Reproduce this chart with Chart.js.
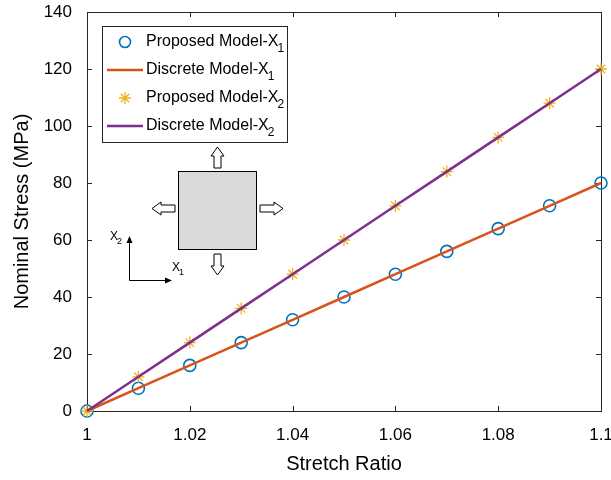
<!DOCTYPE html>
<html>
<head>
<meta charset="utf-8">
<script src="https://cdn.jsdelivr.net/npm/chart.js@4.4.1/dist/chart.umd.min.js"></script>
<style>
  html, body { margin: 0; padding: 0; background: #fff; }
  #wrap { width: 611px; height: 480px; }
</style>
</head>
<body>
<div id="wrap"><canvas id="stress-chart"></canvas></div>
<script>
// stretch ratio and stresses
const stretchRatio = [1, 1.01, 1.02, 1.03, 1.04, 1.05, 1.06, 1.07, 1.08, 1.09, 1.1];
const proposedX1 = [0, 8, 16, 24, 32, 40, 48, 56, 64, 72, 80];
const discreteX1 = [0, 8, 16, 24, 32, 40, 48, 56, 64, 72, 80];
const proposedX2 = [0, 12, 24, 36, 48, 60, 72, 84, 96, 108, 120];
const discreteX2 = [0, 12, 24, 36, 48, 60, 72, 84, 96, 108, 120];
const xTicks = [1, 1.02, 1.04, 1.06, 1.08, 1.1];
const yTicks = [0, 20, 40, 60, 80, 100, 120, 140];

const FONT = "'Liberation Sans', Arial, sans-serif";
const BLUE = "#0072BD", ORANGE = "#D95319", YELLOW = "#EDB120", PURPLE = "#7E2F8E";

const toXY = (ys) => ys.map((y, i) => ({ x: stretchRatio[i], y: y }));

// text with a subscript, e.g. X + "1"
function subText(ctx, base, sub, x, y, size) {
	ctx.font = size + "px " + FONT;
	ctx.textAlign = "left";
	ctx.textBaseline = "middle";
	ctx.fillText(base, x, y);
	let w = ctx.measureText(base).width;
	ctx.font = Math.round(size * 0.72) + "px " + FONT;
	ctx.fillText(sub, x + w - 1, y + size * 0.4);
}

// hollow block arrow, dir in radians (0 = right)
function blockArrow(ctx, cx, cy, len, dir) {
	ctx.save();
	ctx.translate(cx, cy);
	ctx.rotate(dir);
	let h = len / 2, shaft = 3.5, head = 6.5, hl = 9;
	ctx.beginPath();
	ctx.moveTo(-h, -shaft);
	ctx.lineTo(h - hl, -shaft);
	ctx.lineTo(h - hl, -head);
	ctx.lineTo(h, 0);
	ctx.lineTo(h - hl, head);
	ctx.lineTo(h - hl, shaft);
	ctx.lineTo(-h, shaft);
	ctx.closePath();
	ctx.fillStyle = "#fff";
	ctx.fill();
	ctx.strokeStyle = "#000";
	ctx.lineWidth = 1;
	ctx.stroke();
	ctx.restore();
}

const framePlugin = {
	id: "frame",
	beforeDatasetsDraw(chart) {
		const ctx = chart.ctx;
		const a = chart.chartArea;
		const xs = chart.scales.x, ys = chart.scales.y;
		ctx.save();
		ctx.strokeStyle = "#262626";
		ctx.lineWidth = 1;
		ctx.strokeRect(Math.round(a.left) + 0.5, Math.round(a.top) + 0.5,
			Math.round(a.right - a.left), Math.round(a.bottom - a.top));
		ctx.beginPath();
		xTicks.forEach((v) => {
			let px = Math.round(xs.getPixelForValue(v)) + 0.5;
			ctx.moveTo(px, a.bottom); ctx.lineTo(px, a.bottom - 5);
			ctx.moveTo(px, a.top); ctx.lineTo(px, a.top + 5);
		});
		yTicks.forEach((v) => {
			let py = Math.round(ys.getPixelForValue(v)) + 0.5;
			ctx.moveTo(a.left, py); ctx.lineTo(a.left + 5, py);
			ctx.moveTo(a.right, py); ctx.lineTo(a.right - 5, py);
		});
		ctx.stroke();
		ctx.restore();
	},
	afterDraw(chart) {
		const ctx = chart.ctx;
		ctx.save();
		// legend
		ctx.fillStyle = "#fff";
		ctx.fillRect(102, 26, 185, 116);
		ctx.strokeStyle = "#262626";
		ctx.lineWidth = 1;
		ctx.strokeRect(102.5, 26.5, 185, 116);
		const rows = [
			{ kind: "circle", color: BLUE, label: "Proposed Model-X", sub: "1" },
			{ kind: "line", color: ORANGE, label: "Discrete Model-X", sub: "1" },
			{ kind: "star", color: YELLOW, label: "Proposed Model-X", sub: "2" },
			{ kind: "line", color: PURPLE, label: "Discrete Model-X", sub: "2" },
		];
		rows.forEach((r, i) => {
			let y = 42 + i * 28;
			ctx.strokeStyle = r.color;
			if (r.kind === "line") {
				ctx.lineWidth = 2.5;
				ctx.beginPath(); ctx.moveTo(107, y); ctx.lineTo(143, y); ctx.stroke();
			} else if (r.kind === "circle") {
				ctx.lineWidth = 1.6;
				ctx.beginPath(); ctx.arc(125, y, 5.5, 0, Math.PI * 2); ctx.stroke();
			} else {
				ctx.lineWidth = 1.3;
				ctx.beginPath();
				for (let k = 0; k < 4; k++) {
					let ang = k * Math.PI / 4;
					ctx.moveTo(125 - 6 * Math.cos(ang), y - 6 * Math.sin(ang));
					ctx.lineTo(125 + 6 * Math.cos(ang), y + 6 * Math.sin(ang));
				}
				ctx.stroke();
			}
			ctx.fillStyle = "#000";
			subText(ctx, r.label, r.sub, 146, y, 16);
		});

		// loading sketch
		ctx.fillStyle = "#d9d9d9";
		ctx.fillRect(178, 171, 78, 78);
		ctx.strokeStyle = "#000";
		ctx.lineWidth = 1;
		ctx.strokeRect(178.5, 171.5, 78, 78);
		blockArrow(ctx, 217.5, 157.5, 21, -Math.PI / 2);
		blockArrow(ctx, 217.5, 264.5, 21, Math.PI / 2);
		blockArrow(ctx, 163.5, 208.5, 23, Math.PI);
		blockArrow(ctx, 271.5, 208.5, 23, 0);

		// coordinate axes
		ctx.lineWidth = 1;
		ctx.beginPath();
		ctx.moveTo(129.5, 280.5); ctx.lineTo(129.5, 240);
		ctx.moveTo(129.5, 280.5); ctx.lineTo(168, 280.5);
		ctx.stroke();
		ctx.fillStyle = "#000";
		ctx.beginPath();
		ctx.moveTo(129.5, 236); ctx.lineTo(126.5, 243); ctx.lineTo(132.5, 243); ctx.closePath();
		ctx.moveTo(172, 280.5); ctx.lineTo(165, 277.5); ctx.lineTo(165, 283.5); ctx.closePath();
		ctx.fill();
		subText(ctx, "X", "2", 110, 237, 12);
		subText(ctx, "X", "1", 172, 268, 12);
		ctx.restore();
	},
};

new Chart(document.getElementById("stress-chart"), {
	type: "line",
	data: {
		datasets: [
			{
				label: "Proposed Model-X1",
				data: toXY(proposedX1),
				showLine: false,
				clip: false,
				pointStyle: "circle",
				pointRadius: 6,
				pointBorderWidth: 1.6,
				pointBorderColor: BLUE,
				pointBackgroundColor: "rgba(0,0,0,0)",
				order: 4,
			},
			{
				label: "Discrete Model-X1",
				data: toXY(discreteX1),
				clip: false,
				borderColor: ORANGE,
				borderWidth: 2.5,
				pointRadius: 0,
				order: 3,
			},
			{
				label: "Proposed Model-X2",
				data: toXY(proposedX2),
				showLine: false,
				clip: false,
				pointStyle: "star",
				pointRadius: 6,
				pointBorderWidth: 1.3,
				pointBorderColor: YELLOW,
				pointBackgroundColor: YELLOW,
				order: 2,
			},
			{
				label: "Discrete Model-X2",
				data: toXY(discreteX2),
				clip: false,
				borderColor: PURPLE,
				borderWidth: 2.5,
				pointRadius: 0,
				order: 1,
			},
		],
	},
	options: {
		responsive: true,
		maintainAspectRatio: false,
		animation: false,
		layout: { padding: { top: 12, right: 10, left: 0, bottom: 0 } },
		plugins: {
			legend: { display: false },
			tooltip: { enabled: false },
		},
		scales: {
			x: {
				type: "linear",
				min: 1,
				max: 1.1,
				afterBuildTicks: (s) => { s.ticks = xTicks.map((v) => ({ value: v })); },
				afterFit: (s) => { s.height = 69; s.paddingLeft = 0; s.paddingRight = 0; },
				grid: { display: false },
				border: { display: false },
				ticks: {
					color: "#000",
					padding: 6,
					maxRotation: 0,
					font: { family: FONT, size: 17 },
					callback: (v) => String(Number(v.toFixed(2))),
				},
				title: {
					display: true,
					text: "Stretch Ratio",
					color: "#000",
					font: { family: FONT, size: 20 },
					padding: { top: 11 },
				},
			},
			y: {
				min: 0,
				max: 140,
				afterBuildTicks: (s) => { s.ticks = yTicks.map((v) => ({ value: v })); },
				afterFit: (s) => { s.width = 87; s.paddingTop = 0; s.paddingBottom = 0; },
				grid: { display: false },
				border: { display: false },
				ticks: {
					color: "#000",
					padding: 7,
					font: { family: FONT, size: 17 },
				},
				title: {
					display: true,
					text: "Nominal Stress (MPa)",
					color: "#000",
					font: { family: FONT, size: 20 },
					padding: { top: 10, bottom: 0 },
				},
			},
		},
	},
	plugins: [framePlugin],
});
</script>
</body>
</html>
